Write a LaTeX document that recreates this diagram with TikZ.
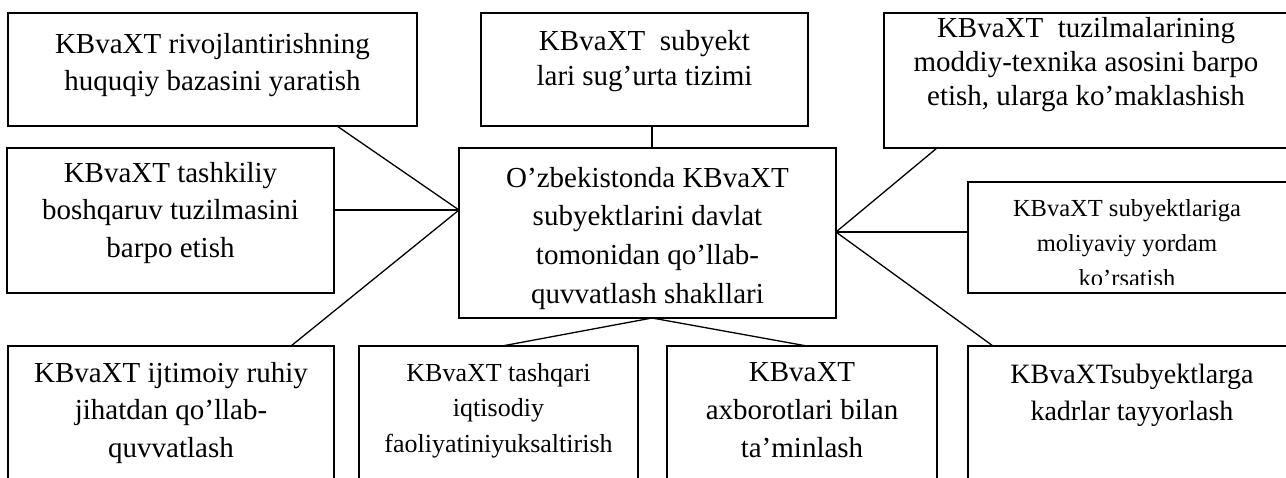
\documentclass[tikz,border=0pt]{standalone}
\usepackage{fontspec}
\setmainfont{Liberation Serif}
% centred block of lines whose reference point is the first baseline
\newcommand\boxlines[3]{\parbox[t]{440pt}{\centering\fontsize{#1}{#2}\selectfont #3}}

\begin{document}
\begin{tikzpicture}[x=1pt,y=-1pt,
  frame/.style={draw=black, line width=1.6pt, fill=white, inner sep=0pt,
    outer sep=0pt, anchor=north west},
  link/.style={draw=black, line width=1.3pt},
  boxtext/.style={anchor=base, inner sep=0pt, outer sep=0pt}]
\useasboundingbox (0,0) rectangle (1286,477);
\clip (0,0) rectangle (1286,477);

% boxes
\node[frame, minimum width=409pt, minimum height=113pt] (A) at (8,13) {};
\node[frame, minimum width=327pt, minimum height=113pt] (C) at (481,13) {};
\node[frame, minimum width=406pt, minimum height=135pt] (F) at (884,13) {};
\node[frame, minimum width=327pt, minimum height=145pt] (B) at (7,148) {};
\node[frame, minimum width=377pt, minimum height=170pt] (D) at (459,148) {};
\node[frame, minimum width=322pt, minimum height=111pt] (E) at (968,182) {};
\node[frame, minimum width=326pt, minimum height=160pt] (G) at (8,346) {};
\node[frame, minimum width=279pt, minimum height=160pt] (H) at (359,346) {};
\node[frame, minimum width=270pt, minimum height=160pt] (I) at (667,346) {};
\node[frame, minimum width=330pt, minimum height=160pt] (J) at (968,346) {};

% attachment points
\coordinate (Dl) at (459,210);
\coordinate (Dr) at (836,232);
\coordinate (Dt) at (652,148);
\coordinate (Db) at (652,318);
\coordinate (Aa) at (337,126);
\coordinate (Bb) at (334,210);
\coordinate (Cc) at (652,126);
\coordinate (Ff) at (937,148);
\coordinate (Ee) at (968,232);
\coordinate (Gg) at (291,346);
\coordinate (Hh) at (502,346);
\coordinate (Ii) at (807,346);
\coordinate (Jj) at (993,346);

% connectors
\draw[link] (Aa) -- (Dl);
\draw[link] (Bb) -- (Dl);
\draw[link] (Gg) -- (Dl);
\draw[link] (Cc) -- (Dt);
\draw[link] (Ff) -- (Dr);
\draw[link] (Ee) -- (Dr);
\draw[link] (Jj) -- (Dr);
\draw[link] (Hh) -- (Db);
\draw[link] (Ii) -- (Db);

% texts
\node[boxtext] (tA) at (212.5,53) {\boxlines{29}{37}{KBvaXT rivojlantirishning\\huquqiy bazasini yaratish}};
\node[boxtext] (tC) at (644.5,50) {\boxlines{29}{35}{KBvaXT\ \ subyekt\\lari sug’urta tizimi}};
\node[boxtext] (tF) at (1086,37) {\boxlines{29}{34}{KBvaXT\ \ tuzilmalarining\\moddiy-texnika asosini barpo\\etish, ularga ko’maklashish}};
\node[boxtext] (tB) at (170.5,182) {\boxlines{29}{37.5}{KBvaXT tashkiliy\\boshqaruv tuzilmasini\\barpo etish}};
\node[boxtext] (tD) at (647.5,187) {\boxlines{29}{38.7}{O’zbekistonda KBvaXT\\subyektlarini davlat\\tomonidan qo’llab-\\quvvatlash shakllari}};
\begin{scope}
  \clip (968,182) rectangle (1290,284);
  \node[boxtext] (tE) at (1127,216) {\boxlines{24.5}{35}{KBvaXT subyektlariga\\moliyaviy yordam\\ko’rsatish}};
\end{scope}
\node[boxtext] (tG) at (171,382) {\boxlines{29}{37.5}{KBvaXT ijtimoiy ruhiy\\jihatdan qo’llab-\\quvvatlash}};
\node[boxtext] (tH) at (498.5,381) {\boxlines{26}{35.5}{KBvaXT tashqari\\iqtisodiy\\faoliyatiniyuksaltirish}};
\node[boxtext] (tI) at (802,381) {\boxlines{29}{38}{KBvaXT\\axborotlari bilan\\ta’minlash}};
\node[boxtext] (tJ) at (1132,383) {\boxlines{28}{37}{KBvaXTsubyektlarga\\kadrlar tayyorlash}};
\end{tikzpicture}
\end{document}
